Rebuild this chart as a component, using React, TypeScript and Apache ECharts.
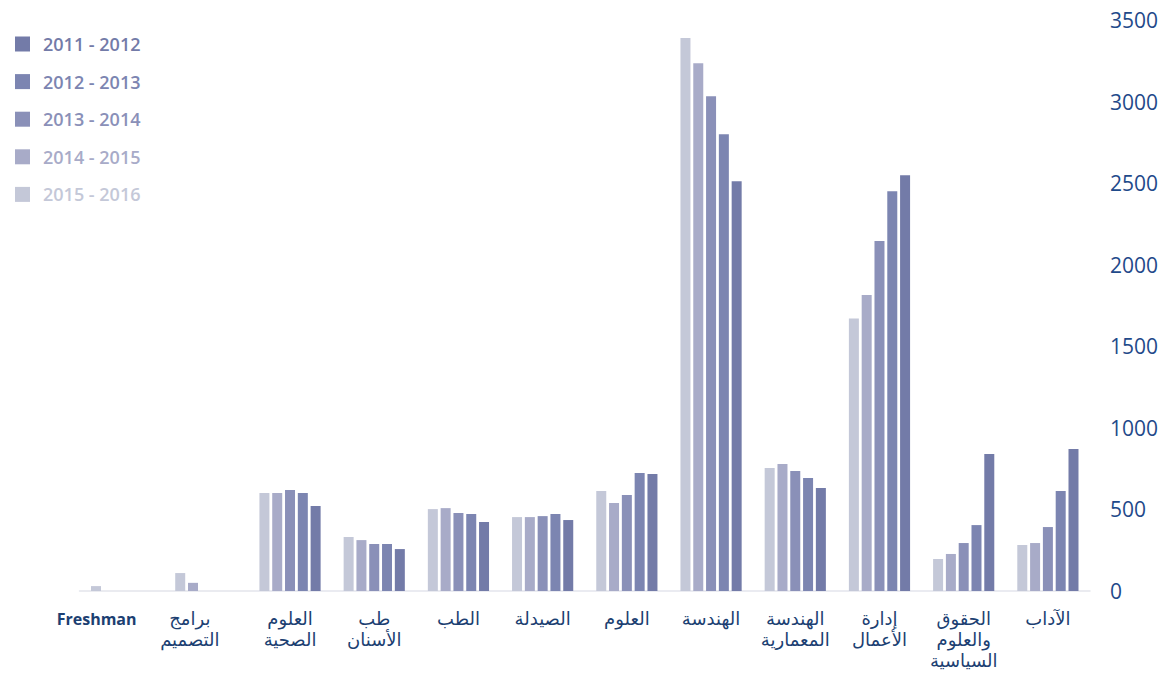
import React, { useEffect, useRef } from "react";
import * as echarts from "echarts";

const categories = [
  "Freshman",
  "برامج\nالتصميم",
  "العلوم\nالصحية",
  "طب\nالأسنان",
  "الطب",
  "الصيدلة",
  "العلوم",
  "الهندسة",
  "الهندسة\nالمعمارية",
  "إدارة\nالأعمال",
  "الحقوق\nوالعلوم\nالسياسية",
  "الآداب",
];

const y2015_2016 = [30, 110, 600, 331, 502, 453, 613, 3390, 754, 1670, 196, 282];
const y2014_2015 = [0, 50, 600, 312, 508, 453, 539, 3235, 778, 1814, 227, 294];
const y2013_2014 = [0, 0, 619, 288, 478, 459, 588, 3033, 735, 2145, 294, 392];
const y2012_2013 = [0, 0, 600, 288, 472, 472, 723, 2800, 692, 2451, 404, 613];
const y2011_2012 = [0, 0, 521, 257, 423, 435, 717, 2512, 631, 2549, 839, 870];

const seriesNames = ["2015 - 2016", "2014 - 2015", "2013 - 2014", "2012 - 2013", "2011 - 2012"];
const seriesData = [y2015_2016, y2014_2015, y2013_2014, y2012_2013, y2011_2012];
const seriesColors = ["#c4c8d8", "#a8abc8", "#8a90b8", "#7c85b1", "#737ba8"];
const legendOrder = ["2011 - 2012", "2012 - 2013", "2013 - 2014", "2014 - 2015", "2015 - 2016"];

export default function App() {
  const ref = useRef<HTMLDivElement>(null);
  useEffect(() => {
    if (!ref.current) return;
    const chart = echarts.init(ref.current, null, { renderer: "svg" });
    const colorOf = (n: string) => seriesColors[seriesNames.indexOf(n)];
    const labelShift: Record<number, number> = { 0: 50, 1: 32 };
    chart.setOption({
      animation: false,
      backgroundColor: "#ffffff",
      legend: {
        orient: "vertical",
        left: 15,
        top: 35,
        padding: 0,
        itemWidth: 15,
        itemHeight: 15,
        itemGap: 19.6,
        icon: "rect",
        data: legendOrder.map((n) => ({
          name: n,
          textStyle: { color: colorOf(n) },
        })),
        textStyle: {
          fontSize: 18,
          fontWeight: 600,
          fontFamily: "Open Sans",
          padding: [0, 0, 0, 8],
        },
      },
      grid: { left: 79.5, right: 79, top: 20, bottom: 82, outerBoundsMode: "none" },
      xAxis: {
        type: "category",
        data: categories.map((c, i) =>
          labelShift[i] ? { value: c, textStyle: { padding: [0, labelShift[i], 0, 0] } } : c
        ),
        axisLine: { show: true, lineStyle: { color: "#e3e5ec", width: 1.5 } },
        axisTick: { show: false },
        axisLabel: {
          interval: 0,
          margin: 17,
          color: "#1c3f72",
          fontSize: 18,
          fontFamily: "DejaVu Sans",
          lineHeight: 21,
          verticalAlign: "top",
          formatter: (v: string) => (v === "Freshman" ? "{b|" + v + "}" : v),
          rich: {
            b: { fontWeight: "bold", fontSize: 16, fontFamily: "Open Sans", color: "#1c3f72" },
          },
        },
      },
      yAxis: {
        type: "value",
        position: "right",
        min: 0,
        max: 3500,
        interval: 500,
        splitLine: { show: false },
        axisLine: { show: false },
        axisTick: { show: false },
        axisLabel: {
          margin: 20,
          align: "left",
          color: "#1f4a8a",
          fontSize: 21,
          fontFamily: "Open Sans",
          formatter: (v: number) => String(v),
        },
      },
      series: seriesNames.map((name, i) => ({
        name,
        type: "bar",
        data: seriesData[i],
        barWidth: 10,
        barGap: "28%",
        itemStyle: { color: seriesColors[i] },
      })),
    });
    return () => chart.dispose();
  }, []);
  return <div ref={ref} style={{ width: 1169, height: 673, position: "absolute", left: 0, top: 0 }} />;
}
